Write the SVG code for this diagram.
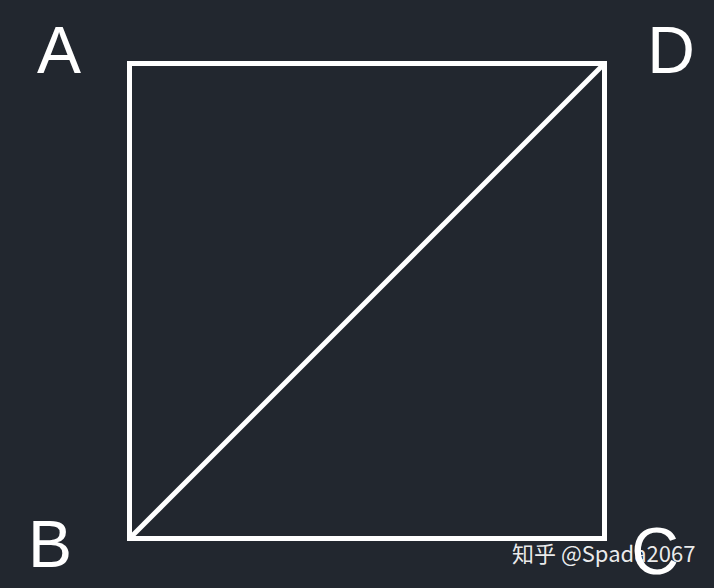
<svg xmlns="http://www.w3.org/2000/svg" width="714" height="588" viewBox="0 0 714 588">
<style>
.lbl{font-family:"Liberation Sans",Arial,sans-serif;font-size:66px;fill:#ffffff;text-anchor:middle}
.ln{stroke:#ffffff;stroke-width:5;fill:none;stroke-linejoin:miter;stroke-linecap:square}
.wm{font-family:"Noto Sans CJK SC","Noto Sans",sans-serif;font-size:22px;fill:#ffffff;fill-opacity:0.92}
</style>
<rect x="0" y="0" width="714" height="588" fill="#22272f"/>
<g id="connectors">
<rect class="ln" x="129.5" y="63.5" width="475" height="475"/>
<line class="ln" x1="129.5" y1="538.5" x2="604.5" y2="63.5" style="stroke-linecap:butt"/>
</g>
<g id="A"><text class="lbl" x="59" y="73">A</text></g>
<g id="D"><text class="lbl" x="671" y="73">D</text></g>
<g id="B"><text class="lbl" x="50" y="567">B</text></g>
<g id="C"><text class="lbl" x="655" y="574">C</text></g>
<g id="watermark"><text class="wm" x="512" y="562">知乎 @Spada2067</text></g>
</svg>
